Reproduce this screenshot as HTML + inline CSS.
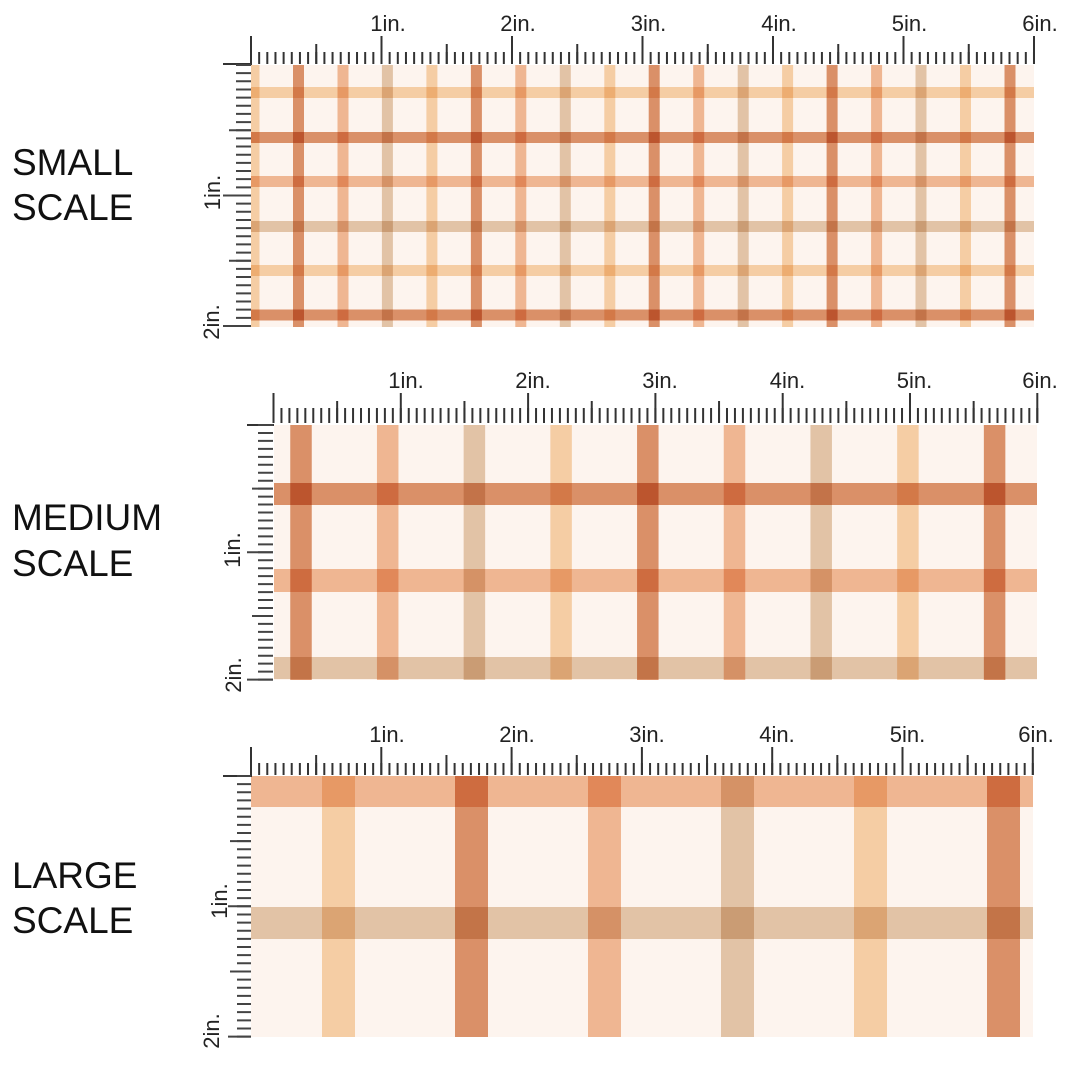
<!DOCTYPE html>
<html>
<head>
<meta charset="utf-8">
<style>
  html,body{margin:0;padding:0;background:#ffffff;}
  svg{display:block;}
  .lbl{font-family:"Liberation Sans",sans-serif;font-size:22px;fill:#222;}
  .big{font-family:"Liberation Sans",sans-serif;font-size:37px;fill:#111;}
  .m{mix-blend-mode:multiply;}
</style>
</head>
<body>
<svg width="1080" height="1080" viewBox="0 0 1080 1080" xmlns="http://www.w3.org/2000/svg">
  <rect width="1080" height="1080" fill="#ffffff"/>

  <!-- Scale titles -->
  <text class="big" x="12" y="175">SMALL</text>
  <text class="big" x="12" y="220">SCALE</text>
  <text class="big" x="12" y="530">MEDIUM</text>
  <text class="big" x="12" y="576">SCALE</text>
  <text class="big" x="12" y="888">LARGE</text>
  <text class="big" x="12" y="933">SCALE</text>

  <!-- ================= SMALL ================= -->
  <g style="isolation:isolate">
    <rect x="251" y="65" width="783" height="262" fill="#fdf4ee"/>
    <!-- horizontal -->
    <rect class="m" x="251" y="87" width="783" height="11" fill="#f7d7b0"/>
    <rect class="m" x="251" y="132" width="783" height="11" fill="#dc976f"/>
    <rect class="m" x="251" y="176" width="783" height="11" fill="#f1be9c"/>
    <rect class="m" x="251" y="221" width="783" height="11" fill="#e4ccb2"/>
    <rect class="m" x="251" y="265" width="783" height="11" fill="#f7d7b0"/>
    <rect class="m" x="251" y="309.5" width="783" height="11" fill="#dc976f"/>
    <!-- vertical -->
    <rect class="m" x="251" y="65" width="8.5" height="262" fill="#f7d7b0"/>
    <rect class="m" x="293" y="65" width="11" height="262" fill="#dc976f"/>
    <rect class="m" x="337.5" y="65" width="11" height="262" fill="#f1be9c"/>
    <rect class="m" x="381.9" y="65" width="11" height="262" fill="#e4ccb2"/>
    <rect class="m" x="426.4" y="65" width="11" height="262" fill="#f7d7b0"/>
    <rect class="m" x="470.9" y="65" width="11" height="262" fill="#dc976f"/>
    <rect class="m" x="515.3" y="65" width="11" height="262" fill="#f1be9c"/>
    <rect class="m" x="559.8" y="65" width="11" height="262" fill="#e4ccb2"/>
    <rect class="m" x="604.3" y="65" width="11" height="262" fill="#f7d7b0"/>
    <rect class="m" x="648.7" y="65" width="11" height="262" fill="#dc976f"/>
    <rect class="m" x="693.2" y="65" width="11" height="262" fill="#f1be9c"/>
    <rect class="m" x="737.7" y="65" width="11" height="262" fill="#e4ccb2"/>
    <rect class="m" x="782.1" y="65" width="11" height="262" fill="#f7d7b0"/>
    <rect class="m" x="826.6" y="65" width="11" height="262" fill="#dc976f"/>
    <rect class="m" x="871.1" y="65" width="11" height="262" fill="#f1be9c"/>
    <rect class="m" x="915.5" y="65" width="11" height="262" fill="#e4ccb2"/>
    <rect class="m" x="960" y="65" width="11" height="262" fill="#f7d7b0"/>
    <rect class="m" x="1004.5" y="65" width="11" height="262" fill="#dc976f"/>
  </g>
  <!-- small rulers -->
  <g stroke="#333" fill="none">
    <line x1="250" y1="58" x2="1036" y2="58" stroke-width="12" stroke-dasharray="2 6.156"/>
    <g stroke-width="2">
      <line x1="316.25" y1="44" x2="316.25" y2="64"/>
      <line x1="446.75" y1="44" x2="446.75" y2="64"/>
      <line x1="577.25" y1="44" x2="577.25" y2="64"/>
      <line x1="707.75" y1="44" x2="707.75" y2="64"/>
      <line x1="838.25" y1="44" x2="838.25" y2="64"/>
      <line x1="968.75" y1="44" x2="968.75" y2="64"/>
      <line x1="251" y1="36" x2="251" y2="64"/>
      <line x1="381.5" y1="36" x2="381.5" y2="64"/>
      <line x1="512" y1="36" x2="512" y2="64"/>
      <line x1="642.5" y1="36" x2="642.5" y2="64"/>
      <line x1="773" y1="36" x2="773" y2="64"/>
      <line x1="903.5" y1="36" x2="903.5" y2="64"/>
      <line x1="1034" y1="36" x2="1034" y2="64"/>
    </g>
  </g>
  <rect x="223" y="63" width="29" height="2" fill="#333"/>
  <g stroke="#444" fill="none">
    <line x1="243.5" y1="64" x2="243.5" y2="328" stroke-width="15" stroke-dasharray="2 6.156"/>
    <g stroke-width="2">
      <line x1="229" y1="130.25" x2="251" y2="130.25"/>
      <line x1="229" y1="260.75" x2="251" y2="260.75"/>
      <line x1="223" y1="195.5" x2="251" y2="195.5"/>
      <line x1="223" y1="326" x2="251" y2="326"/>
    </g>
  </g>
  <g class="lbl" text-anchor="middle">
    <text x="388" y="31">1in.</text>
    <text x="518" y="31">2in.</text>
    <text x="648.5" y="31">3in.</text>
    <text x="779" y="31">4in.</text>
    <text x="909.5" y="31">5in.</text>
    <text x="1040" y="31">6in.</text>
    <text transform="translate(220,192.5) rotate(-90)">1in.</text>
    <text transform="translate(219,322) rotate(-90)">2in.</text>
  </g>

  <!-- ================= MEDIUM ================= -->
  <g style="isolation:isolate">
    <rect x="274" y="425" width="763" height="255" fill="#fdf4ee"/>
    <rect class="m" x="274" y="483" width="763" height="22" fill="#dc976f"/>
    <rect class="m" x="274" y="569" width="763" height="23" fill="#f1be9c"/>
    <rect class="m" x="274" y="657" width="763" height="22" fill="#e4ccb2"/>
    <rect class="m" x="290.25" y="425" width="21.5" height="255" fill="#dc976f"/>
    <rect class="m" x="376.95" y="425" width="21.5" height="255" fill="#f1be9c"/>
    <rect class="m" x="463.65" y="425" width="21.5" height="255" fill="#e4ccb2"/>
    <rect class="m" x="550.35" y="425" width="21.5" height="255" fill="#f7d7b0"/>
    <rect class="m" x="637.05" y="425" width="21.5" height="255" fill="#dc976f"/>
    <rect class="m" x="723.75" y="425" width="21.5" height="255" fill="#f1be9c"/>
    <rect class="m" x="810.45" y="425" width="21.5" height="255" fill="#e4ccb2"/>
    <rect class="m" x="897.15" y="425" width="21.5" height="255" fill="#f7d7b0"/>
    <rect class="m" x="983.85" y="425" width="21.5" height="255" fill="#dc976f"/>
  </g>
  <g stroke="#333" fill="none">
    <line x1="272.5" y1="415.5" x2="1039" y2="415.5" stroke-width="15" stroke-dasharray="2 5.956"/>
    <g stroke-width="2">
      <line x1="337.15" y1="401" x2="337.15" y2="423"/>
      <line x1="464.45" y1="401" x2="464.45" y2="423"/>
      <line x1="591.75" y1="401" x2="591.75" y2="423"/>
      <line x1="719.05" y1="401" x2="719.05" y2="423"/>
      <line x1="846.35" y1="401" x2="846.35" y2="423"/>
      <line x1="973.65" y1="401" x2="973.65" y2="423"/>
      <line x1="273.5" y1="393" x2="273.5" y2="423"/>
      <line x1="400.8" y1="393" x2="400.8" y2="423"/>
      <line x1="528.1" y1="393" x2="528.1" y2="423"/>
      <line x1="655.4" y1="393" x2="655.4" y2="423"/>
      <line x1="782.7" y1="393" x2="782.7" y2="423"/>
      <line x1="910" y1="393" x2="910" y2="423"/>
      <line x1="1037.3" y1="393" x2="1037.3" y2="423"/>
    </g>
  </g>
  <rect x="247" y="424" width="27" height="2" fill="#333"/>
  <g stroke="#444" fill="none">
    <line x1="265.5" y1="424" x2="265.5" y2="682" stroke-width="15" stroke-dasharray="2 5.956"/>
    <g stroke-width="2">
      <line x1="252" y1="488.65" x2="273" y2="488.65"/>
      <line x1="252" y1="615.95" x2="273" y2="615.95"/>
      <line x1="247" y1="552.3" x2="273" y2="552.3"/>
      <line x1="247" y1="679.6" x2="273" y2="679.6"/>
    </g>
  </g>
  <g class="lbl" text-anchor="middle">
    <text x="406" y="388">1in.</text>
    <text x="533" y="388">2in.</text>
    <text x="660" y="388">3in.</text>
    <text x="787.5" y="388">4in.</text>
    <text x="914.5" y="388">5in.</text>
    <text x="1040" y="388">6in.</text>
    <text transform="translate(240,550) rotate(-90)">1in.</text>
    <text transform="translate(241,675) rotate(-90)">2in.</text>
  </g>

  <!-- ================= LARGE ================= -->
  <g style="isolation:isolate">
    <rect x="251" y="776" width="782" height="261" fill="#fdf4ee"/>
    <rect class="m" x="251" y="776" width="782" height="31" fill="#f1be9c"/>
    <rect class="m" x="251" y="907" width="782" height="32" fill="#e4ccb2"/>
    <rect class="m" x="322" y="776" width="33" height="261" fill="#f7d7b0"/>
    <rect class="m" x="455" y="776" width="33" height="261" fill="#dc976f"/>
    <rect class="m" x="588" y="776" width="33" height="261" fill="#f1be9c"/>
    <rect class="m" x="721" y="776" width="33" height="261" fill="#e4ccb2"/>
    <rect class="m" x="854" y="776" width="33" height="261" fill="#f7d7b0"/>
    <rect class="m" x="987" y="776" width="33" height="261" fill="#dc976f"/>
  </g>
  <g stroke="#333" fill="none">
    <line x1="250" y1="769" x2="1035" y2="769" stroke-width="12" stroke-dasharray="2 6.144"/>
    <g stroke-width="2">
      <line x1="316.15" y1="755" x2="316.15" y2="775"/>
      <line x1="446.45" y1="755" x2="446.45" y2="775"/>
      <line x1="576.75" y1="755" x2="576.75" y2="775"/>
      <line x1="707.05" y1="755" x2="707.05" y2="775"/>
      <line x1="837.35" y1="755" x2="837.35" y2="775"/>
      <line x1="967.65" y1="755" x2="967.65" y2="775"/>
      <line x1="251" y1="747" x2="251" y2="775"/>
      <line x1="381.3" y1="747" x2="381.3" y2="775"/>
      <line x1="511.6" y1="747" x2="511.6" y2="775"/>
      <line x1="641.9" y1="747" x2="641.9" y2="775"/>
      <line x1="772.2" y1="747" x2="772.2" y2="775"/>
      <line x1="902.5" y1="747" x2="902.5" y2="775"/>
      <line x1="1032.8" y1="747" x2="1032.8" y2="775"/>
    </g>
  </g>
  <rect x="223" y="775" width="29" height="2" fill="#333"/>
  <g stroke="#444" fill="none">
    <line x1="244" y1="775" x2="244" y2="1039" stroke-width="14" stroke-dasharray="2 6.144"/>
    <g stroke-width="2">
      <line x1="230" y1="841.15" x2="251" y2="841.15"/>
      <line x1="230" y1="971.45" x2="251" y2="971.45"/>
      <line x1="228" y1="906.3" x2="251" y2="906.3"/>
      <line x1="228" y1="1036.6" x2="251" y2="1036.6"/>
    </g>
  </g>
  <g class="lbl" text-anchor="middle">
    <text x="387" y="742">1in.</text>
    <text x="517" y="742">2in.</text>
    <text x="647" y="742">3in.</text>
    <text x="777" y="742">4in.</text>
    <text x="907.5" y="742">5in.</text>
    <text x="1036" y="742">6in.</text>
    <text transform="translate(227,901) rotate(-90)">1in.</text>
    <text transform="translate(219,1031) rotate(-90)">2in.</text>
  </g>
</svg>
</body>
</html>
